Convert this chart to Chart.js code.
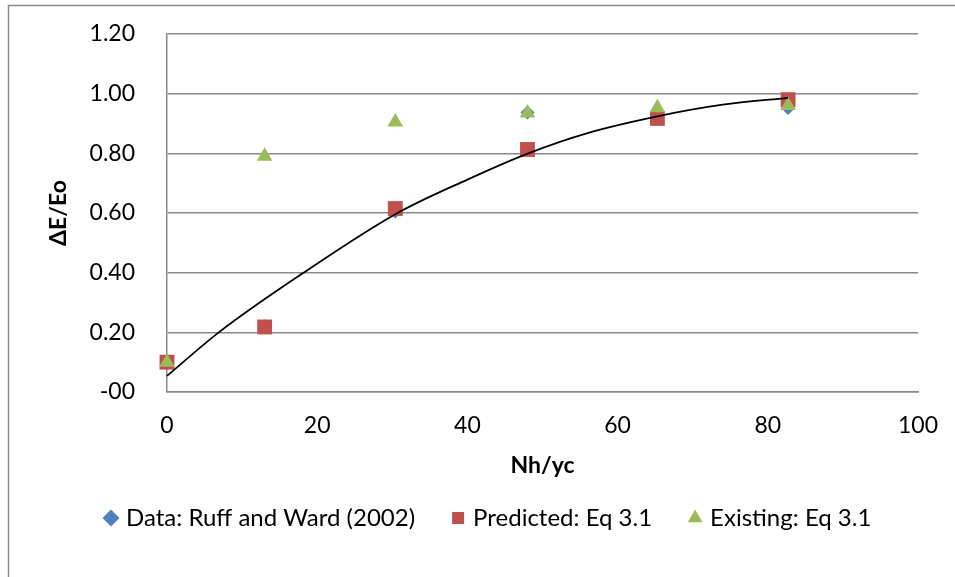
<!DOCTYPE html>
<html>
<head>
<meta charset="utf-8">
<script src="https://cdn.jsdelivr.net/npm/chart.js@4/dist/chart.umd.min.js"></script>
<style>
  html, body { margin: 0; padding: 0; background: #fff; }
  #wrap { width: 955px; height: 577px; }
</style>
</head>
<body>
<div id="wrap"><canvas id="myChart"></canvas></div>
<script>
// values
const nhyc = [0, 13, 30.4, 48, 65.3, 82.7];
const ruffWard = [0.10, 0.22, 0.605, 0.937, 0.93, 0.952];
const predicted = [0.10, 0.218, 0.615, 0.813, 0.917, 0.98];
const existing = [0.10, 0.79, 0.905, 0.935, 0.953, 0.96];

// black trendline, points
const trendX = [0, 6.9, 18.2, 30.7, 40, 48.1, 56, 65.3, 74, 82.7];
const trendY = [0.054, 0.20, 0.40, 0.60, 0.712, 0.80, 0.868, 0.924, 0.963, 0.986];

const yTicks = [0, 0.2, 0.4, 0.6, 0.8, 1.0, 1.2];
const xTicks = [0, 20, 40, 60, 80, 100];

const FONT = "Lato, 'Open Sans', sans-serif";
const gridGray = '#8a8a8a';

const toPoints = (xs, ys) => xs.map((x, i) => ({ x: x, y: ys[i] }));

// outer frame of the chart object
const framePlugin = {
    id: 'frame',
    beforeDraw: (chart) => {
        const ctx = chart.ctx;
        ctx.save();
        ctx.fillStyle = '#fff';
        ctx.fillRect(0, 0, chart.width, chart.height);
        ctx.strokeStyle = gridGray;
        ctx.lineWidth = 1.5;
        ctx.beginPath();
        ctx.moveTo(8.5, chart.height);
        ctx.lineTo(8.5, 5.5);
        ctx.lineTo(chart.width, 5.5);
        ctx.stroke();
        ctx.restore();
    }
};

const ctx = document.getElementById('myChart').getContext('2d');

const myChart = new Chart(ctx, {
    type: 'scatter',
    data: {
        datasets: [
            {
                label: 'Data: Ruff and Ward (2002)',
                data: toPoints(nhyc, ruffWard),
                pointStyle: 'rectRot',
                pointRadius: 7,
                backgroundColor: '#4F81BD',
                borderColor: '#4F81BD',
                borderWidth: 0,
                clip: false,
                order: 3
            },
            {
                label: 'Predicted: Eq 3.1',
                data: toPoints(nhyc, predicted),
                pointStyle: 'rect',
                pointRadius: 10.5,
                backgroundColor: '#C0504D',
                borderColor: '#C0504D',
                borderWidth: 0,
                clip: false,
                order: 2
            },
            {
                label: 'Existing: Eq 3.1',
                data: toPoints(nhyc, existing),
                pointStyle: 'triangle',
                pointRadius: 9,
                backgroundColor: '#9BBB59',
                borderColor: '#9BBB59',
                borderWidth: 0,
                clip: false,
                order: 1
            },
            {
                label: 'trend',
                data: toPoints(trendX, trendY),
                showLine: true,
                pointRadius: 0,
                borderColor: '#000',
                borderWidth: 1.75,
                cubicInterpolationMode: 'monotone',
                clip: false,
                order: 0
            }
        ]
    },
    options: {
        responsive: true,
        maintainAspectRatio: false,
        animation: false,
        layout: { padding: { left: 68, right: 37, top: 34, bottom: 37 } },
        plugins: {
            tooltip: { enabled: false },
            legend: {
                position: 'bottom',
                align: 'start',
                labels: {
                    usePointStyle: true,
                    boxWidth: 6,
                    boxHeight: 12,
                    padding: 40,
                    color: '#000',
                    font: { family: FONT, size: 24 },
                    filter: (item) => item.text !== 'trend',
                    sort: (a, b) => a.datasetIndex - b.datasetIndex
                }
            }
        },
        scales: {
            x: {
                type: 'linear',
                min: 0,
                max: 100,
                afterFit: (scale) => {
                    scale.height = 74;
                    scale.paddingLeft = 0;
                    scale.paddingRight = 0;
                },
                afterBuildTicks: (scale) => { scale.ticks = xTicks.map(v => ({ value: v })); },
                grid: { display: false, drawTicks: false },
                border: { display: true, color: gridGray, width: 1.5 },
                ticks: {
                    padding: 20,
                    color: '#000',
                    font: { family: FONT, size: 23 }
                },
                title: {
                    display: true,
                    text: 'Nh/yc',
                    color: '#000',
                    font: { family: FONT, size: 23, weight: 'bold' },
                    padding: { top: 0, bottom: -13 }
                }
            },
            y: {
                type: 'linear',
                min: 0,
                max: 1.2,
                afterFit: (scale) => {
                    scale.width = 99;
                    scale.paddingTop = 0;
                    scale.paddingBottom = 0;
                },
                afterBuildTicks: (scale) => { scale.ticks = yTicks.map(v => ({ value: v })); },
                grid: { color: gridGray, lineWidth: 1.5, drawTicks: false },
                border: { display: true, color: gridGray, width: 1.5 },
                ticks: {
                    padding: 32,
                    color: '#000',
                    font: { family: FONT, size: 23 },
                    callback: (v) => v === 0 ? '-00' : v.toFixed(2)
                },
                title: {
                    display: true,
                    text: 'ΔE/Eo',
                    color: '#000',
                    font: { family: FONT, size: 23, weight: 'bold' },
                    padding: { top: -23, bottom: 0 }
                }
            }
        }
    },
    plugins: [framePlugin]
});
</script>
</body>
</html>
